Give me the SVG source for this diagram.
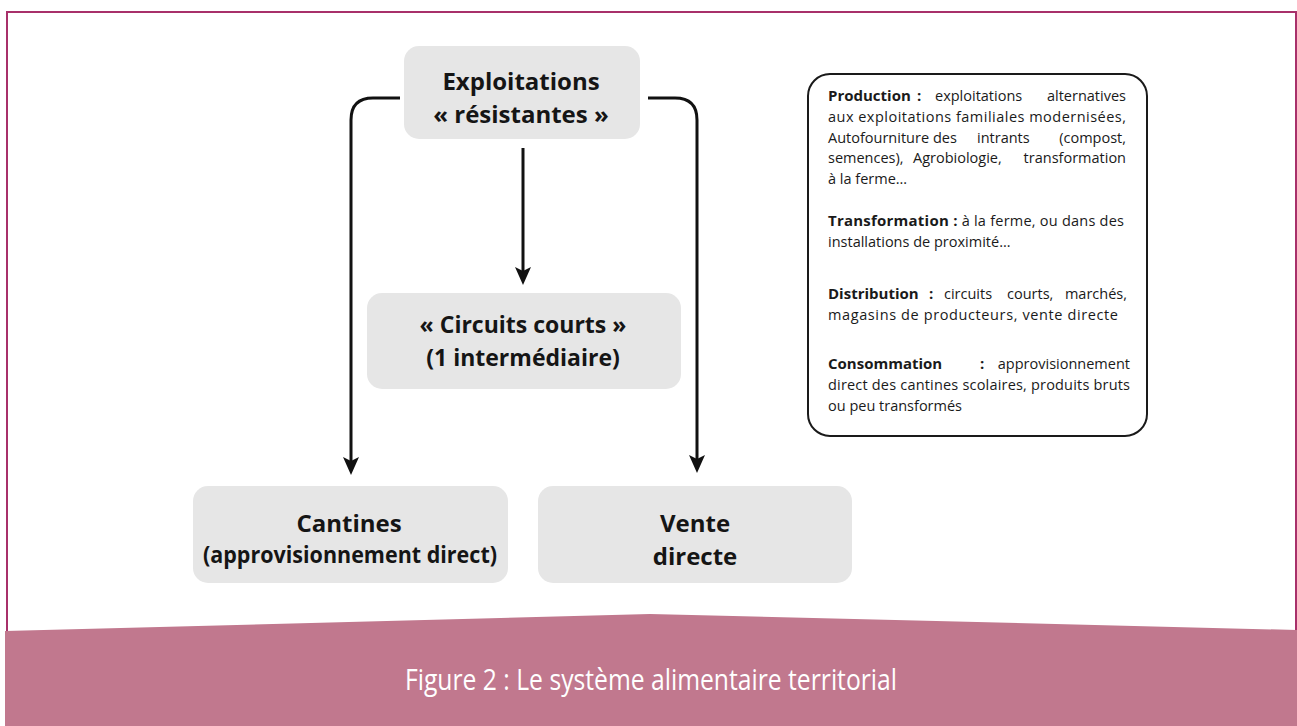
<svg xmlns="http://www.w3.org/2000/svg" width="1297" height="726" viewBox="0 0 1297 726">
  <style>
    .node rect { fill: #e6e6e6; }
    .nt { font-family: "Open Sans", "Liberation Sans", sans-serif; font-weight: 700; fill: #151515; text-anchor: middle; }
    .conn { fill: none; stroke: #111; stroke-width: 3; }
    .bt { font-family: "Open Sans", "Liberation Sans", sans-serif; font-size: 14.5px; fill: #1a1a1a; }
    .b { font-weight: 700; font-size: 15px; }
    .e { text-anchor: end; }
  </style>
  <defs>
    <marker id="arr" markerUnits="userSpaceOnUse" viewBox="-12 -10 22 20" markerWidth="22" markerHeight="20" refX="0" refY="0" orient="auto">
      <path d="M8,0 L-10,-8 L-6,0 L-10,8 Z" fill="#111"/>
    </marker>
  </defs>
  <rect width="1297" height="726" fill="#fff"/>
  <!-- frame -->
  <path d="M7,640 V12 H1296 V640" fill="none" stroke="#a8306a" stroke-width="2"/>
  <!-- bottom band -->
  <polygon points="5,631 650,614 1297,630 1297,726 5,726" fill="#c1788e"/>
  <text x="651" y="690" font-family="Open Sans, Liberation Sans, sans-serif" font-weight="400" font-size="30" fill="#ffffff" text-anchor="middle" textLength="492" lengthAdjust="spacingAndGlyphs">Figure 2 : Le système alimentaire territorial</text>

  <g id="connectors">
    <path class="conn" d="M400,98 H373 Q351,98 351,120 V467" marker-end="url(#arr)"/>
    <path class="conn" d="M648,98 H675 Q697,98 697,120 V465" marker-end="url(#arr)"/>
    <path class="conn" d="M523,148 V277" marker-end="url(#arr)"/>
  </g>

  <g id="node-exploitations" class="node">
    <rect x="404" y="46" width="236" height="93" rx="15"/>
    <text class="nt" x="521" y="90" font-size="24">Exploitations</text>
    <text class="nt" x="521" y="123" font-size="24">« résistantes »</text>
  </g>
  <g id="node-circuits" class="node">
    <rect x="367" y="293" width="314" height="96" rx="15"/>
    <text class="nt" x="523" y="333" font-size="23">« Circuits courts »</text>
    <text class="nt" x="523" y="366" font-size="23">(1 intermédiaire)</text>
  </g>
  <g id="node-cantines" class="node">
    <rect x="193" y="486" width="315" height="97" rx="15"/>
    <text class="nt" x="349" y="532" font-size="24">Cantines</text>
    <text class="nt" x="350" y="563" font-size="23" textLength="294" lengthAdjust="spacingAndGlyphs">(approvisionnement direct)</text>
  </g>
  <g id="node-vente" class="node">
    <rect x="538" y="486" width="314" height="97" rx="15"/>
    <text class="nt" x="695" y="532" font-size="24">Vente</text>
    <text class="nt" x="695" y="565" font-size="24">directe</text>
  </g>

  <g id="legend">
    <rect x="808" y="74" width="339" height="362" rx="22" fill="#fff" stroke="#1a1a1a" stroke-width="2"/>
    <text class="bt b" x="828" y="101">Production</text>
    <text class="bt b" x="917" y="101">:</text>
    <text class="bt" x="935" y="101">exploitations</text>
    <text class="bt e" x="1126" y="101">alternatives</text>

    <text class="bt" x="828" y="122" textLength="298" lengthAdjust="spacing">aux exploitations familiales modernisées,</text>

    <text class="bt" x="828" y="143">Autofourniture</text>
    <text class="bt" x="933" y="143">des</text>
    <text class="bt" x="977" y="143">intrants</text>
    <text class="bt e" x="1126" y="143">(compost,</text>

    <text class="bt" x="828" y="163">semences),</text>
    <text class="bt" x="913" y="163">Agrobiologie,</text>
    <text class="bt e" x="1126" y="163">transformation</text>

    <text class="bt" x="828" y="184">à la ferme…</text>

    <text class="bt" x="828" y="226" textLength="296" lengthAdjust="spacing"><tspan class="b">Transformation :</tspan> à la ferme, ou dans des</text>
    <text class="bt" x="828" y="247">installations de proximité…</text>

    <text class="bt b" x="828" y="299">Distribution</text>
    <text class="bt b" x="929" y="299">:</text>
    <text class="bt" x="944" y="299">circuits</text>
    <text class="bt" x="1007" y="299">courts,</text>
    <text class="bt e" x="1127" y="299">marchés,</text>
    <text class="bt" x="828" y="320" textLength="290" lengthAdjust="spacing">magasins de producteurs, vente directe</text>

    <text class="bt b" x="828" y="369">Consommation</text>
    <text class="bt b" x="980" y="369">:</text>
    <text class="bt e" x="1130" y="369">approvisionnement</text>
    <text class="bt" x="828" y="390" textLength="302" lengthAdjust="spacing">direct des cantines scolaires, produits bruts</text>
    <text class="bt" x="828" y="411">ou peu transformés</text>
  </g>
</svg>
